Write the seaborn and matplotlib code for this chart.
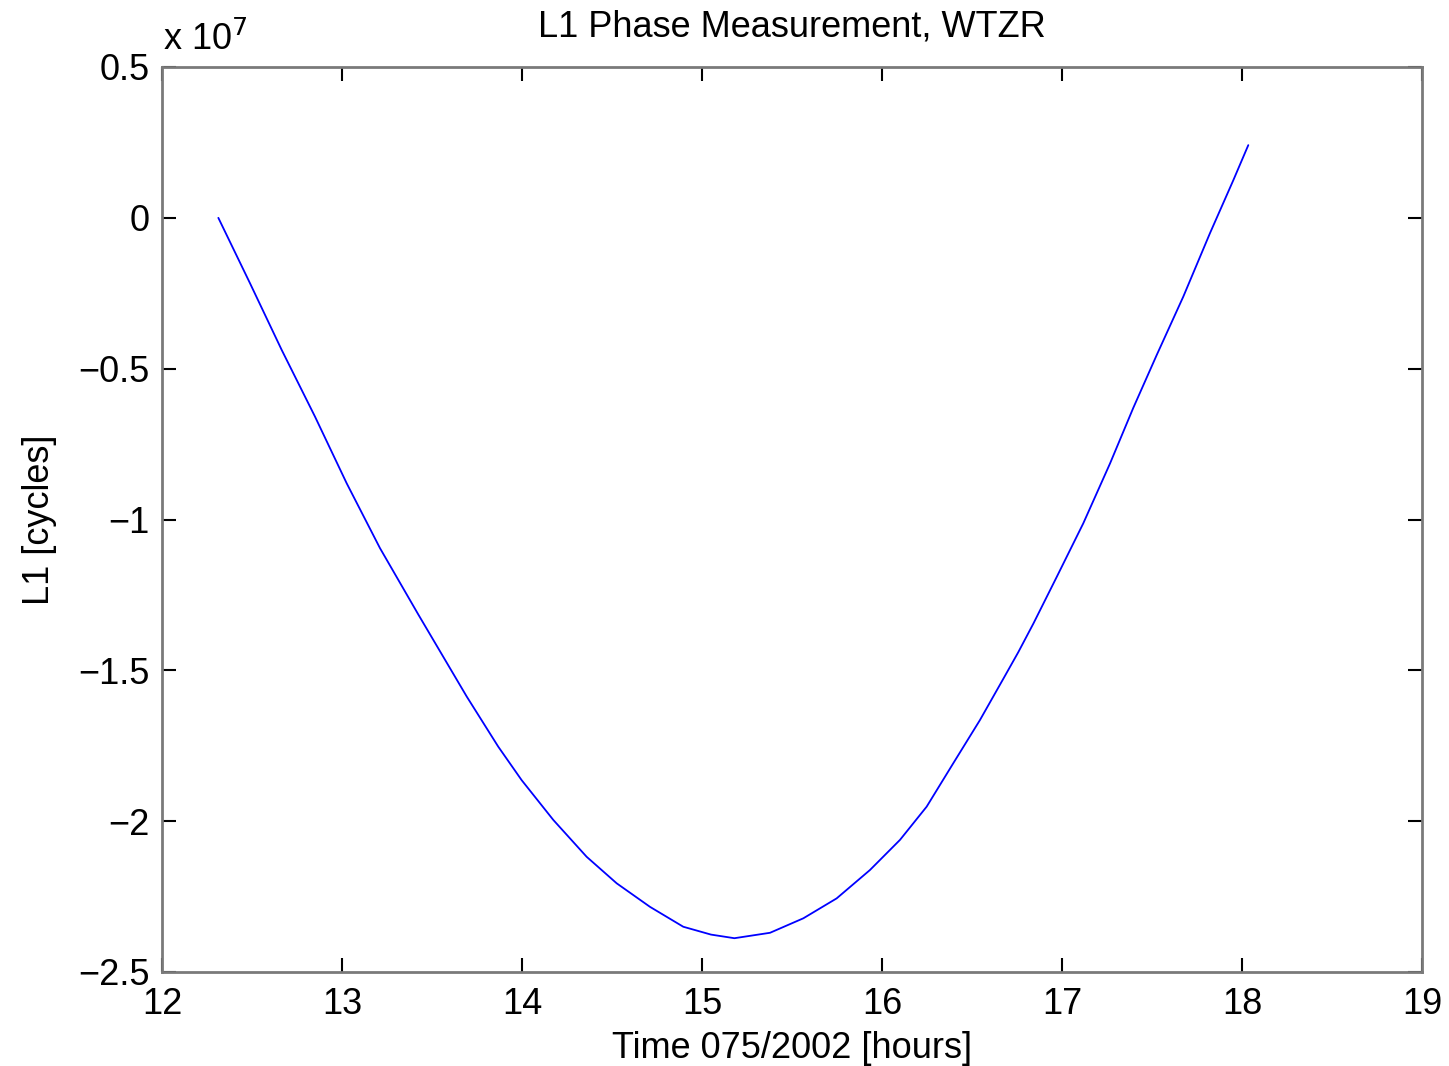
import numpy as np
import pandas as pd
import matplotlib
matplotlib.use("Agg")
import matplotlib.pyplot as plt
from matplotlib.ticker import FuncFormatter, FixedLocator
import seaborn as sns

# ---- data ----
time_hours = [12.313, 12.489, 12.665, 12.850, 13.026, 13.211, 13.424, 13.693, 13.868,
              13.998, 14.174, 14.359, 14.526, 14.711, 14.896, 15.050, 15.180, 15.378,
              15.563, 15.748, 15.933, 16.100, 16.248, 16.396, 16.544, 16.674, 16.757,
              16.841, 16.971, 17.118, 17.267, 17.396, 17.526, 17.674, 17.822, 17.952,
              18.035]
l1_1e7 = [0.000, -0.217, -0.438, -0.659, -0.880, -1.095, -1.315, -1.587, -1.753,
          -1.864, -1.996, -2.118, -2.206, -2.284, -2.350, -2.376, -2.388, -2.370,
          -2.322, -2.256, -2.162, -2.062, -1.952, -1.808, -1.665, -1.528, -1.440,
          -1.345, -1.190, -1.013, -0.814, -0.630, -0.455, -0.261, -0.051, 0.125,
          0.241]
x_ticks = [12, 13, 14, 15, 16, 17, 18, 19]
y_ticks_1e7 = [0.5, 0, -0.5, -1, -1.5, -2, -2.5]
title = "L1 Phase Measurement, WTZR"
xlabel = "Time 075/2002 [hours]"
ylabel = "L1 [cycles]"
scale = 1e7

df = pd.DataFrame({"t": time_hours, "L1": np.array(l1_1e7) * scale})

sns.set_theme(style="white")
plt.rcParams["font.family"] = ["Liberation Sans", "DejaVu Sans"]
plt.rcParams["text.color"] = "black"
plt.rcParams["axes.labelcolor"] = "black"
plt.rcParams["xtick.color"] = "black"
plt.rcParams["ytick.color"] = "black"

FS = 26

fig = plt.figure(figsize=(14.49, 10.66), dpi=100)
ax = fig.add_axes([162 / 1449, 1 - 972 / 1066, (1422 - 162) / 1449, (972 - 67) / 1066])

sns.lineplot(data=df, x="t", y="L1", ax=ax, color="#0000ff", linewidth=1.3)

ax.set_xlim(12, 19)
ax.set_ylim(-2.5 * scale, 0.5 * scale)
ax.xaxis.set_major_locator(FixedLocator(x_ticks))
ax.yaxis.set_major_locator(FixedLocator([v * scale for v in y_ticks_1e7]))
ax.yaxis.set_major_formatter(FuncFormatter(lambda v, p: f"{v / scale:g}".replace("-", "\u2212")))
ax.xaxis.set_major_formatter(FuncFormatter(lambda v, p: f"{v:g}"))

ax.tick_params(axis="both", which="major", direction="in", length=10, width=1.5,
               color="black", labelcolor="black", labelsize=FS, top=True, right=True,
               bottom=True, left=True)
ax.tick_params(axis="x", pad=11)
ax.tick_params(axis="y", pad=9)

for s in ax.spines.values():
    s.set_visible(True)
    s.set_color("#7a7a7a")
    s.set_linewidth(2)

ax.set_title(title, fontsize=FS, pad=22, color="black")
ax.set_xlabel(xlabel, fontsize=FS, color="black")
ax.set_ylabel(ylabel, fontsize=FS, color="black")
ax.xaxis.set_label_coords(0.5, -0.065)
ax.yaxis.set_label_coords(-0.083, 0.5)

ax.text(0.001, 1.019, "x 10$^7$", transform=ax.transAxes, fontsize=FS,
        ha="left", va="baseline", color="black")

fig.savefig("out.png", dpi=100)
